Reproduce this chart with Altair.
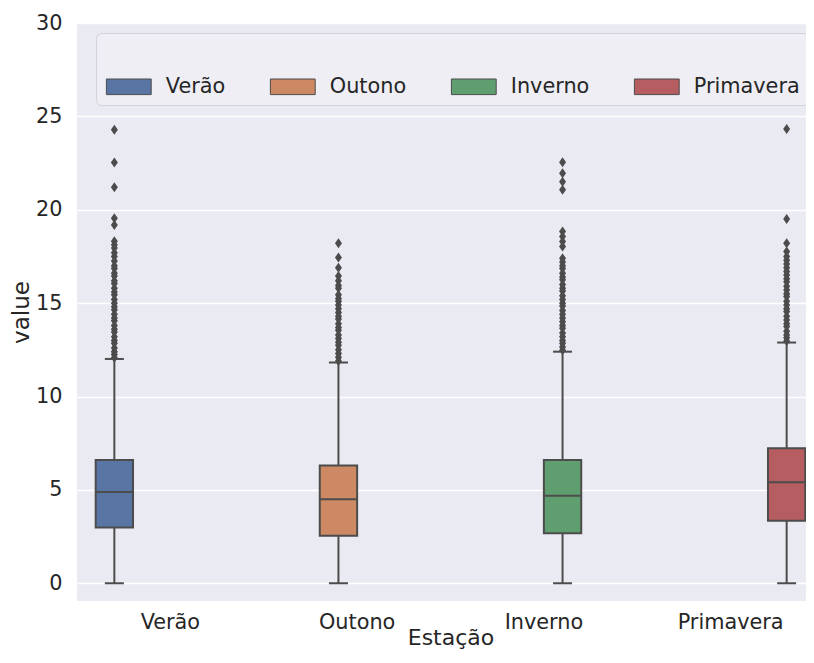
import altair as alt
import pandas as pd

# ---- data ----
seasons = ["Verão", "Outono", "Inverno", "Primavera"]
colors = ["#5875A4", "#CC8963", "#5F9E6E", "#B55D60"]

q1 = [2.98, 2.55, 2.68, 3.35]
median = [4.89, 4.50, 4.68, 5.41]
q3 = [6.60, 6.30, 6.60, 7.23]
whisker_low = [0.0, 0.0, 0.0, 0.0]
whisker_high = [12.01, 11.82, 12.40, 12.89]

out_verao = [24.28, 22.53, 21.21, 19.55, 19.19, 18.32, 18.12, 17.95, 17.7, 17.5,
             17.25, 17.0, 16.85, 16.6, 16.45, 16.2, 16.05, 15.8, 15.6, 15.45,
             15.2, 15.0, 14.8, 14.65, 14.4, 14.2, 14.05, 13.8, 13.6, 13.45,
             13.2, 13.0, 12.85, 12.6, 12.4, 12.25, 12.08]
out_outono = [18.21, 17.44, 16.9, 16.45, 16.2, 15.95, 15.8, 15.45, 15.25, 15.1,
              14.9, 14.7, 14.5, 14.3, 14.15, 13.9, 13.7, 13.55, 13.3, 13.1,
              12.9, 12.75, 12.5, 12.3, 12.1, 11.9]
out_inverno = [22.55, 21.96, 21.5, 21.07, 18.83, 18.57, 18.3, 18.03, 17.4, 17.2,
               17.0, 16.85, 16.6, 16.4, 16.25, 16.0, 15.8, 15.65, 15.4, 15.2,
               15.0, 14.85, 14.6, 14.4, 14.2, 14.0, 13.8, 13.65, 13.4, 13.2,
               13.0, 12.85, 12.65, 12.48]
out_primavera = [24.32, 19.51, 18.21, 17.76, 17.5, 17.3, 17.1, 16.9, 16.7, 16.5,
                 16.3, 16.15, 15.9, 15.7, 15.5, 15.35, 15.1, 14.9, 14.7, 14.55,
                 14.3, 14.1, 13.9, 13.75, 13.5, 13.3, 13.15, 12.97]

# ---- tables ----
box_df = pd.DataFrame({
    "Estação": seasons, "q1": q1, "med": median, "q3": q3,
    "lo": whisker_low, "hi": whisker_high,
})
rows = []
for s, vals in zip(seasons, [out_verao, out_outono, out_inverno, out_primavera]):
    rows += [{"Estação": s, "value": v} for v in vals]
out_df = pd.DataFrame(rows)

EDGE = "#4C4C4C"
TEXT = "#262626"
FS = 20.8

x_enc = alt.X(
    "Estação:N", sort=seasons,
    scale=alt.Scale(domain=seasons, range=[0, 747], paddingInner=0, paddingOuter=0),
    axis=alt.Axis(title="Estação", labelAngle=0, ticks=False, tickSize=0, domain=False,
                  grid=False, labelPadding=11, titlePadding=-4, titleFontSize=22),
)
xoff = alt.XOffset("Estação:N", sort=seasons,
                   scale=alt.Scale(domain=seasons, paddingInner=0, paddingOuter=0.5))

yscale = alt.Scale(domain=[-0.95, 30], nice=False, zero=False)
yaxis = alt.Axis(title="value", values=[0, 5, 10, 15, 20, 25, 30], grid=True,
                 gridColor="white", gridWidth=1.5, ticks=False, tickSize=0,
                 domain=False, labelPadding=15, titlePadding=2)


def Y(field):
    return alt.Y(f"{field}:Q", scale=yscale, axis=yaxis, title="value")


base = alt.Chart(box_df)

whisker = base.mark_rule(color=EDGE, strokeWidth=2).encode(
    x=x_enc, xOffset=xoff, y=Y("lo"), y2="hi:Q")

legend = alt.Legend(
    orient="none", legendX=19, legendY=10, direction="horizontal", columns=4,
    title=" ", titleFontSize=20, titlePadding=15,
    symbolType="M-1,-0.975L4.6,-0.975L4.6,0.975L-1,0.975Z", symbolSize=256,
    symbolStrokeColor=EDGE, symbolStrokeWidth=1, symbolOpacity=1,
    labelOffset=41, labelFontSize=FS, labelColor=TEXT, labelFont="DejaVu Sans",
    columnPadding=42, padding=8,
    fillColor="#EEEEF4", strokeColor="#D2D2DA", cornerRadius=5,
)

boxes = base.mark_bar(stroke=EDGE, strokeWidth=2, opacity=1).encode(
    x=x_enc, xOffset=xoff, y=Y("q1"), y2="q3:Q",
    color=alt.Color("Estação:N", scale=alt.Scale(domain=seasons, range=colors),
                    legend=legend),
)

med = base.mark_tick(color=EDGE, thickness=2, size=37.3, opacity=1).encode(
    x=x_enc, xOffset=xoff, y=Y("med"))
cap_lo = base.mark_tick(color=EDGE, thickness=2, size=19, opacity=1).encode(
    x=x_enc, xOffset=xoff, y=Y("lo"))
cap_hi = base.mark_tick(color=EDGE, thickness=2, size=19, opacity=1).encode(
    x=x_enc, xOffset=xoff, y=Y("hi"))

outliers = alt.Chart(out_df).mark_point(
    shape="M0,-1L0.7,0L0,1L-0.7,0Z", size=100, filled=True, color=EDGE, opacity=1
).encode(x=x_enc, xOffset=xoff, y=Y("value"))

chart = alt.layer(whisker, boxes, med, cap_lo, cap_hi, outliers).properties(
    width=729, height=578,
    autosize=alt.AutoSizeParams(type="none"),
    padding={"left": 69, "top": 15, "right": 0, "bottom": 54},
).configure_view(
    fill="#EAEAF2", stroke=None
).configure_axis(
    labelFont="DejaVu Sans", titleFont="DejaVu Sans", labelFontSize=FS,
    titleFontSize=23, labelColor=TEXT, titleColor=TEXT, titleFontWeight="normal",
).configure_legend(
    titleFont="DejaVu Sans",
)

chart.save("out.html", embed_options={"renderer": "svg", "actions": False})
